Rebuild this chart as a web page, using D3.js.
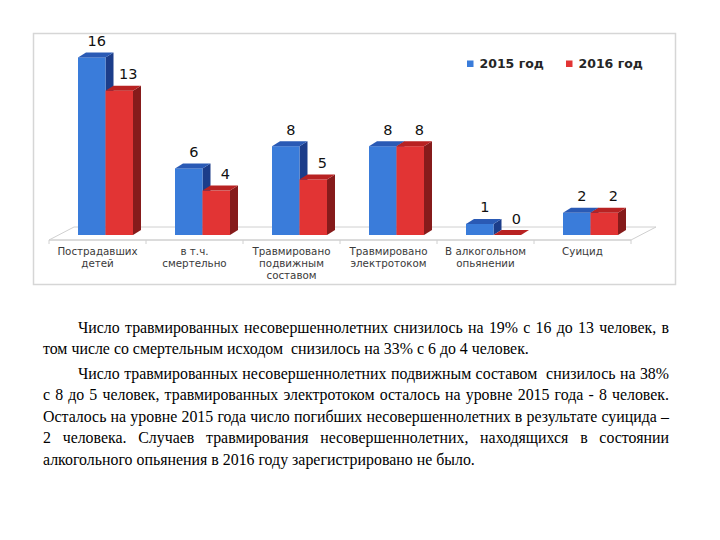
<!DOCTYPE html>
<html><head><meta charset="utf-8">
<script src="https://cdn.jsdelivr.net/npm/d3@7"></script>
<style>body{margin:0;background:#fff}</style>
</head><body><svg id="c" width="720" height="540"></svg>
<script>
const categories = ["Пострадавших детей","в т.ч. смертельно","Травмировано подвижным составом","Травмировано электротоком","В алкогольном опьянении","Суицид"];
const categoryLines = [["Пострадавших","детей"],["в т.ч.","смертельно"],["Травмировано","подвижным","составом"],["Травмировано","электротоком"],["В алкогольном","опьянении"],["Суицид"]];
const seriesNames = ["2015 год","2016 год"];
const values2015 = [16,6,8,8,1,2];
const values2016 = [13,4,5,8,0,2];
const textLines = [
  {t:"Число травмированных несовершеннолетних снизилось на 19% с 16 до 13 человек, в", indent:true, justify:true},
  {t:"том числе со смертельным исходом  снизилось на 33% с 6 до 4 человек.", indent:false, justify:false},
  {t:"Число травмированных несовершеннолетних подвижным составом  снизилось на 38%", indent:true, justify:true},
  {t:"с 8 до 5 человек, травмированных электротоком осталось на уровне 2015 года - 8 человек.", indent:false, justify:true},
  {t:"Осталось на уровне 2015 года число погибших несовершеннолетних в результате суицида –", indent:false, justify:true},
  {t:"2 человека. Случаев травмирования несовершеннолетних, находящихся в состоянии", indent:false, justify:true},
  {t:"алкогольного опьянения в 2016 году зарегистрировано не было.", indent:false, justify:false}
];
const lineBaselines = [333, 354.5, 379, 400.5, 422, 443.5, 465];

const colors = {
  "2015 год": {front:"#3a7cda", top:"#2a5ab5", side:"#1c3d8a"},
  "2016 год": {front:"#e23434", top:"#b82222", side:"#861b1b"}
};

const svg = d3.select("#c");
svg.append("rect").attr("width",720).attr("height",540).attr("fill","#fff");
svg.append("rect").attr("x",33.5).attr("y",33.5).attr("width",642).attr("height",251)
  .attr("fill","none").attr("stroke","#d6d6d6").attr("stroke-width",1.5);

// geometry
const floorY = 240, floorDX = 25, floorDY = -13;
const barDX = 9.5, barDY = -5, sideDX = 8, sideDY = -5;
const x = d3.scaleBand().domain(categories).range([49, 631]).padding(0);
const xs = d3.scaleBand().domain(seriesNames).range([19.5, 74.5]).padding(0);
const y = d3.scaleLinear().domain([0, 16]).range([floorY + barDY, floorY + barDY - 177.6]);

// floor
const fl = svg.append("g").attr("stroke","#d0d0d0").attr("fill","none").attr("stroke-width",1);
const x0 = x.range()[0], x1 = x.range()[1];
fl.append("path").attr("d", `M${x0},${floorY}L${x0+floorDX},${floorY+floorDY}L${x1+floorDX},${floorY+floorDY}L${x1},${floorY}Z`).attr("fill","#fff");
const edges = categories.map(c => x(c)).concat([x1]);
const edgeScale = d3.scaleLinear().domain([0,1]).range([0,1]);
const axisG = svg.append("g").attr("transform",`translate(0,${floorY})`)
  .call(d3.axisBottom(edgeScale).tickValues(edges).tickSize(4).tickFormat(""));
axisG.select(".domain").attr("stroke","#d0d0d0").attr("d",`M${x0},0H${x1}`);
axisG.selectAll(".tick line").attr("stroke","#d0d0d0");
axisG.selectAll(".tick").attr("transform", d => `translate(${d},0)`);

// category labels through band axis (one text per line)
const catAxis = svg.append("g").attr("transform",`translate(0,${floorY})`)
  .call(d3.axisBottom(x).tickSize(0).tickFormat(""));
catAxis.select(".domain").remove();
catAxis.selectAll(".tick").each(function(d, i){
  const tk = d3.select(this);
  tk.select("text").remove();
  categoryLines[i].forEach((ln, k) => {
    tk.append("text").attr("x",0).attr("y", 15.2 + k*11.9)
      .attr("fill","#3a3a3a").attr("font-family","DejaVu Sans").attr("font-size","10.3px")
      .attr("text-anchor","middle").text(ln);
  });
});

// bars
const data = categories.map((c,i) => ({c, vals:[{s:seriesNames[0], v:values2015[i]},{s:seriesNames[1], v:values2016[i]}]}));
const bars = svg.append("g");
data.forEach(d => {
  d.vals.forEach(b => {
    const bx0 = x(d.c) + barDX + xs(b.s);
    const bx1 = bx0 + xs.bandwidth();
    const yt = y(b.v), yb = y(0);
    const col = colors[b.s];
    const g = bars.append("g");
    g.append("path").attr("d", `M${bx1},${yt}L${bx1+sideDX},${yt+sideDY}L${bx1+sideDX},${yb+sideDY}L${bx1},${yb}Z`).attr("fill", col.side);
    if (b.v > 0) g.append("rect").attr("x",bx0).attr("y",yt).attr("width",bx1-bx0).attr("height",yb-yt).attr("fill",col.front);
    g.append("path").attr("d", `M${bx0},${yt}L${bx0+sideDX},${yt+sideDY}L${bx1+sideDX},${yt+sideDY}L${bx1},${yt}Z`).attr("fill", col.top);
  });
});

// value labels
const labels = svg.append("g").attr("font-family","DejaVu Sans").attr("font-size","14.5px").attr("fill","#111").attr("text-anchor","middle");
data.forEach(d => {
  d.vals.forEach((b, k) => {
    const cx = x(d.c) + barDX + xs(b.s) + xs.bandwidth()/2 + (k === 0 ? 5 : 9);
    labels.append("text").attr("x", cx).attr("y", y(b.v) - 11.5).text(b.v);
  });
});

// legend
const legX = [467, 566];
const leg = svg.append("g");
seriesNames.forEach((s, i) => {
  leg.append("rect").attr("x", legX[i]).attr("y", 60.5).attr("width",6.5).attr("height",6.5).attr("fill", colors[s].front);
  leg.append("text").attr("x", legX[i] + 12.5).attr("y", 68).attr("font-family","DejaVu Sans").attr("font-weight","bold")
    .attr("font-size","12.5px").attr("fill","#262626").text(s);
});

// paragraph text (justified lines)
const left = 43, right = 669, indent = 35;
const tg = svg.append("g").attr("font-family","Liberation Serif").attr("font-size","16px").attr("fill","#000");
const probe = tg.append("text");
const measure = s => { probe.text(s); return probe.node().getComputedTextLength(); };
const sx = 432 / measure(textLines[6].t);
probe.remove();
const sg = tg.append("g").attr("transform", `scale(${sx},1)`);
textLines.forEach((ln, i) => {
  const words = ln.t.split(" ");
  const pr = sg.append("text");
  const wl = words.map(w => { if (!w) return 0; pr.text(w); return pr.node().getComputedTextLength(); });
  pr.text("a a"); const aa = pr.node().getComputedTextLength();
  pr.text("aa"); const sp = (aa - pr.node().getComputedTextLength()) || 4;
  pr.remove();
  const start = (left + (ln.indent ? indent : 0)) / sx;
  const avail = right / sx - start;
  const total = d3.sum(wl);
  const gap = ln.justify && words.length > 1 ? (avail - total) / (words.length - 1) : sp;
  const t = sg.append("text").attr("y", lineBaselines[i]);
  let cx = start;
  words.forEach((w, k) => {
    if (w) t.append("tspan").attr("x", cx).text(w);
    cx += wl[k] + gap;
  });
});
</script></body></html>
